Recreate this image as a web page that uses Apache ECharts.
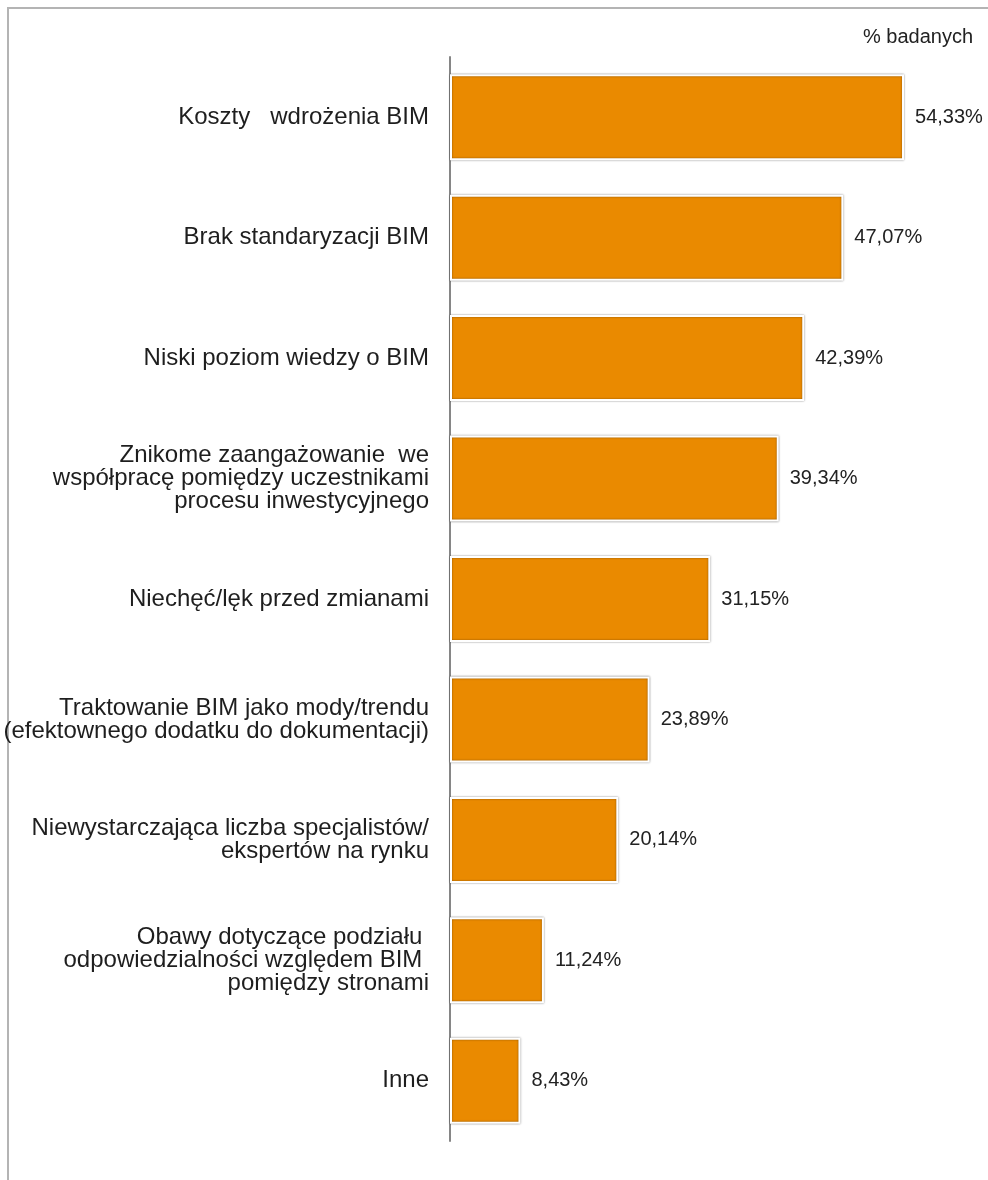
<!DOCTYPE html>
<html>
<head>
<meta charset="utf-8">
<script src="https://cdn.jsdelivr.net/npm/echarts@6/dist/echarts.min.js"></script>
<style>
  html, body { margin: 0; padding: 0; background: #fff; }
  #chart { width: 988px; height: 1180px; }
</style>
</head>
<body>
<div id="chart"></div>
<script>
// Bariery wdrażania BIM – odsetek badanych wskazujących daną barierę
const categories = [
  'Koszty   wdrożenia BIM',
  'Brak standaryzacji BIM',
  'Niski poziom wiedzy o BIM',
  'Znikome zaangażowanie  we\nwspółpracę pomiędzy uczestnikami\nprocesu inwestycyjnego',
  'Niechęć/lęk przed zmianami',
  'Traktowanie BIM jako mody/trendu\n(efektownego dodatku do dokumentacji)',
  'Niewystarczająca liczba specjalistów/\nekspertów na rynku',
  'Obawy dotyczące podziału \nodpowiedzialności względem BIM \npomiędzy stronami',
  'Inne'
];
const values = [54.33, 47.07, 42.39, 39.34, 31.15, 23.89, 20.14, 11.24, 8.43];
const unitLabel = '% badanych';

const FONT = '"Liberation Sans", Arial, sans-serif';

const chart = echarts.init(document.getElementById('chart'), null, { renderer: 'canvas' });

chart.setOption({
  backgroundColor: '#ffffff',
  animation: false,
  title: {
    text: unitLabel,
    right: 10,
    top: 22,
    textStyle: { fontFamily: FONT, fontSize: 20, fontWeight: 'normal', color: '#222' }
  },
  graphic: [
    {
      type: 'polyline',
      silent: true,
      shape: { points: [[8, 1180], [8, 8], [988, 8]] },
      style: { stroke: '#b4b4b4', lineWidth: 2, fill: null }
    }
  ],
  grid: { left: 450, right: 36.6, top: 57, bottom: 39, containLabel: false },
  xAxis: {
    type: 'value',
    min: 0,
    max: 60,
    show: false
  },
  yAxis: {
    type: 'category',
    inverse: true,
    data: categories,
    axisLine: { show: true, lineStyle: { color: '#868686', width: 2 } },
    axisTick: { show: false },
    splitLine: { show: false },
    axisLabel: {
      margin: 21,
      fontFamily: FONT,
      fontSize: 24,
      lineHeight: 23,
      color: '#1e1e1e',
      align: 'right'
    }
  },
  series: [{
    type: 'bar',
    data: values,
    barWidth: 86,
    itemStyle: {
      color: '#ea8a00',
      borderColor: '#ffffff',
      borderWidth: 2,
      shadowColor: 'rgba(0,0,0,0.45)',
      shadowBlur: 2
    },
    label: {
      show: true,
      position: 'right',
      distance: 11,
      fontFamily: FONT,
      fontSize: 20,
      color: '#222',
      formatter: p => p.value.toFixed(2).replace('.', ',') + '%'
    }
  }]
});
</script>
</body>
</html>
